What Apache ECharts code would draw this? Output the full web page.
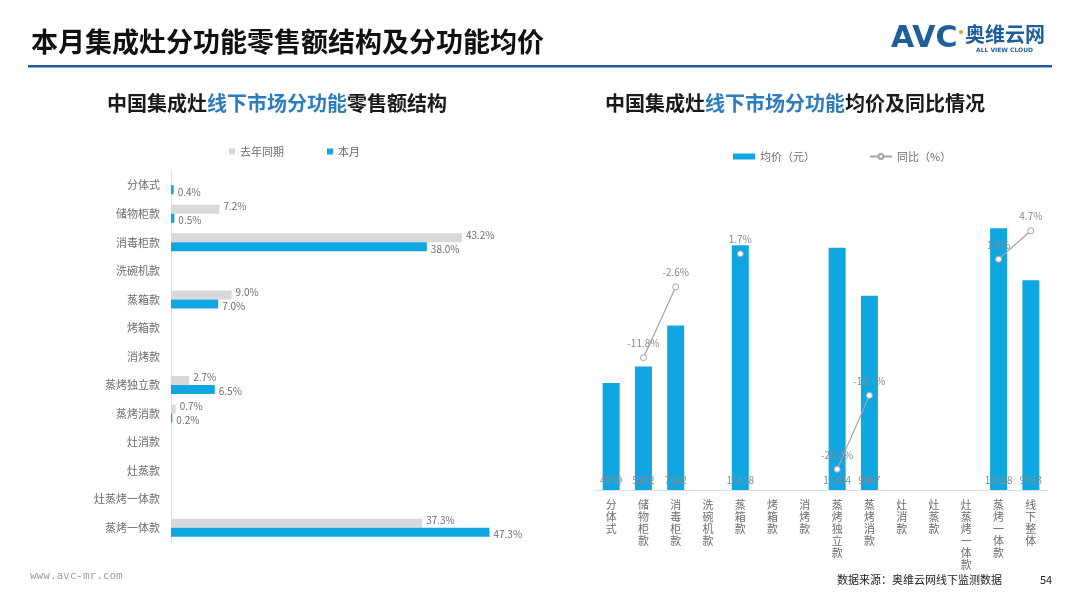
<!DOCTYPE html>
<html>
<head>
<meta charset="utf-8">
<script src="https://cdn.jsdelivr.net/npm/echarts@6/dist/echarts.min.js"></script>
<style>
  html, body { margin: 0; padding: 0; background: #fff; }
  #chart { width: 1080px; height: 608px; }
</style>
</head>
<body>
<div id="chart"></div>
<script>
// 左图：零售额结构
var leftCats = ['分体式', '储物柜款', '消毒柜款', '洗碗机款', '蒸箱款', '烤箱款', '消烤款', '蒸烤独立款', '蒸烤消款', '灶消款', '灶蒸款', '灶蒸烤一体款', '蒸烤一体款'];
var lastYear = [null, 7.2, 43.2, null, 9.0, null, null, 2.7, 0.7, null, null, null, 37.3];
var thisMonth = [0.4, 0.5, 38.0, null, 7.0, null, null, 6.5, 0.2, null, null, null, 47.3];

// 右图：均价及同比
var rightCats = ['分体式', '储物柜款', '消毒柜款', '洗碗机款', '蒸箱款', '烤箱款', '消烤款', '蒸烤独立款', '蒸烤消款', '灶消款', '灶蒸款', '灶蒸烤一体款', '蒸烤一体款', '线下整体'];
var avgPrice = [4999, 5762, 7682, null, 11418, null, null, 11304, 9067, null, null, null, 12218, 9793];
var yoy = [null, -11.8, -2.6, null, 1.7, null, null, -26.3, -16.7, null, null, null, 1.0, 4.7];

var FONT = '"Noto Sans CJK SC", "Noto Sans", sans-serif';
var BLUE = '#10a6e2';
var GRAY = '#d9d9d9';
var TXT = '#6e6e6e';

var chart = echarts.init(document.getElementById('chart'));

var titleRich = {
  b: { fontSize: 20, fontWeight: 'bold', color: '#1a1a1a', fontFamily: FONT },
  c: { fontSize: 20, fontWeight: 'bold', color: '#2e7cc0', fontFamily: FONT }
};

var option = {
  backgroundColor: '#fff',
  textStyle: { fontFamily: FONT },
  animation: false,
  title: [
    {
      text: '{b|中国集成灶}{c|线下市场分功能}{b|零售额结构}',
      left: 102, top: 88,
      textStyle: { rich: titleRich }
    },
    {
      text: '{b|中国集成灶}{c|线下市场分功能}{b|均价及同比情况}',
      left: 600, top: 88,
      textStyle: { rich: titleRich }
    }
  ],
  legend: [
    {
      left: 224, top: 141,
      itemWidth: 6, itemHeight: 6, itemGap: 43,
      icon: 'rect',
      textStyle: { color: TXT, fontSize: 11, fontFamily: FONT },
      data: ['去年同期', '本月']
    },
    {
      left: 728, top: 146,
      itemGap: 54,
      textStyle: { color: TXT, fontSize: 11, fontFamily: FONT },
      data: [
        { name: '均价（元）', icon: 'rect', itemStyle: { color: BLUE } },
        { name: '同比（%）' }
      ],
      itemWidth: 22, itemHeight: 6
    }
  ],
  grid: [
    { left: 171, top: 171, width: 404, height: 371 },
    { left: 595, top: 190, width: 452, height: 300 }
  ],
  xAxis: [
    {
      gridIndex: 0, type: 'value', min: 0, max: 60,
      show: false
    },
    {
      gridIndex: 1, type: 'category', data: rightCats,
      axisTick: { show: false },
      axisLine: { lineStyle: { color: '#e0e0e0', width: 1 } },
      axisLabel: {
        color: TXT, fontSize: 11, lineHeight: 12, margin: 9, interval: 0,
        formatter: function (v) { return v.split('').join('\n'); }
      }
    }
  ],
  yAxis: [
    {
      gridIndex: 0, type: 'category', data: leftCats, inverse: true,
      axisTick: { show: false },
      axisLine: { lineStyle: { color: '#e0e0e0' } },
      axisLabel: { color: TXT, fontSize: 11, margin: 11 }
    },
    { gridIndex: 1, type: 'value', min: 0, max: 14000, show: false },
    { gridIndex: 1, type: 'value', min: -29, max: 10, show: false }
  ],
  series: [
    {
      name: '去年同期', type: 'bar', xAxisIndex: 0, yAxisIndex: 0,
      data: lastYear, barWidth: 9, barGap: '0%',
      itemStyle: { color: GRAY },
      label: {
        show: true, position: 'right', distance: 4, offset: [0, -3],
        color: TXT, fontSize: 10, formatter: function (p) { return p.value.toFixed(1) + '%'; }
      }
    },
    {
      name: '本月', type: 'bar', xAxisIndex: 0, yAxisIndex: 0,
      data: thisMonth, barWidth: 9, barGap: '0%',
      itemStyle: { color: BLUE },
      label: {
        show: true, position: 'right', distance: 4, offset: [0, 2],
        color: TXT, fontSize: 10, formatter: function (p) { return p.value.toFixed(1) + '%'; }
      }
    },
    {
      name: '均价（元）', type: 'bar', xAxisIndex: 1, yAxisIndex: 1,
      data: avgPrice, barWidth: 17,
      itemStyle: { color: BLUE },
      label: {
        show: true, position: 'insideBottom', distance: 5,
        color: '#8a8a8a', fontSize: 10
      }
    },
    {
      name: '同比（%）', type: 'line', xAxisIndex: 1, yAxisIndex: 2,
      data: yoy, connectNulls: false,
      symbol: 'circle', symbolSize: 6,
      lineStyle: { color: '#a6a6a6', width: 1.2 },
      itemStyle: { color: '#fff', borderColor: '#a6a6a6', borderWidth: 1 },
      label: {
        show: true, position: 'top', distance: 6,
        color: '#8a8a8a', fontSize: 10,
        formatter: function (p) { return p.value.toFixed(1) + '%'; }
      },
      z: 5
    }
  ],
  graphic: [
    {
      type: 'text', left: 31, top: 28,
      style: { text: '本月集成灶分功能零售额结构及分功能均价', fill: '#111', font: 'bold 27px ' + FONT }
    },
    {
      type: 'rect', shape: { x: 28, y: 65, width: 1024, height: 2.5 },
      style: { fill: '#1f5e9c' }
    },
    {
      type: 'text', left: 891, top: 24,
      style: { text: 'AVC', fill: '#1f5e9c', font: 'bold 30px "DejaVu Sans", sans-serif' }
    },
    {
      type: 'circle', shape: { cx: 961, cy: 32, r: 2 },
      style: { fill: '#e0a020' }
    },
    {
      type: 'text', left: 965, top: 24,
      style: { text: '奥维云网', fill: '#1f5e9c', font: 'bold 20px ' + FONT }
    },
    {
      type: 'text', left: 976, top: 47,
      style: { text: 'ALL VIEW CLOUD', fill: '#1f5e9c', font: 'bold 6px "DejaVu Sans", sans-serif' }
    },
    {
      type: 'text', left: 30, top: 571,
      style: { text: 'www.avc-mr.com', fill: '#a0a0a0', font: '11px "DejaVu Sans Mono", monospace' }
    },
    {
      type: 'text', left: 837, top: 574,
      style: { text: '数据来源：奥维云网线下监测数据', fill: '#222', font: '11px ' + FONT }
    },
    {
      type: 'text', left: 1040, top: 574,
      style: { text: '54', fill: '#222', font: '11px ' + FONT }
    }
  ]
};

chart.setOption(option);
</script>
</body>
</html>
